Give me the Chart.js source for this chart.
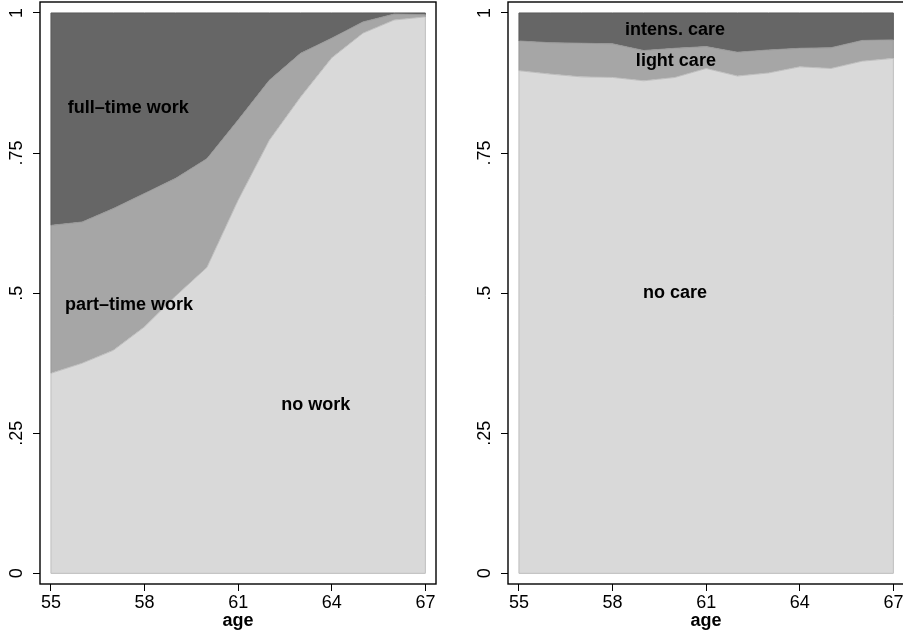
<!DOCTYPE html>
<html>
<head>
<meta charset="utf-8">
<script src="https://cdn.jsdelivr.net/npm/chart.js@4/dist/chart.umd.min.js"></script>
<style>
  html, body { margin: 0; padding: 0; background: #fff; overflow: hidden; }
  #wrap { position: relative; width: 903px; height: 636px; overflow: hidden; background: #fff; }
  canvas { position: absolute; top: 0; }
</style>
</head>
<body>
<div id="wrap">
  <canvas id="left" width="451" height="636" style="left:0px"></canvas>
  <canvas id="right" width="451" height="636" style="left:468px"></canvas>
</div>
<script>
// ---- data ----
const ages = [55, 56, 57, 58, 59, 60, 61, 62, 63, 64, 65, 66, 67];

const noWork   = [0.357, 0.375, 0.398, 0.440, 0.495, 0.546, 0.666, 0.773, 0.850, 0.920, 0.964, 0.9875, 0.993];
const partTime = [0.264, 0.252, 0.253, 0.238, 0.210, 0.194, 0.143, 0.107, 0.078, 0.035, 0.020, 0.0105, 0.004];
const fullTime = [0.379, 0.373, 0.349, 0.322, 0.295, 0.260, 0.191, 0.120, 0.072, 0.045, 0.016, 0.002, 0.003];

const noCare     = [0.897, 0.891, 0.886, 0.885, 0.879, 0.885, 0.901, 0.8875, 0.893, 0.904, 0.901, 0.914, 0.919];
const lightCare  = [0.053, 0.056, 0.060, 0.060, 0.054, 0.052, 0.039, 0.0425, 0.041, 0.033, 0.037, 0.037, 0.033];
const intensCare = [0.050, 0.053, 0.054, 0.055, 0.067, 0.063, 0.060, 0.070, 0.066, 0.063, 0.062, 0.049, 0.048];

const xTickValues = [55, 58, 61, 64, 67];
const yTickValues = [0, 0.25, 0.5, 0.75, 1];
const yTickLabels = ['0', '.25', '.5', '.75', '1'];
const xTitle = 'age';

const leftLabels  = [{ text: 'full\u2013time work', x: 57.48, y: 0.830 },
                     { text: 'part\u2013time work', x: 57.50, y: 0.479 },
                     { text: 'no work',            x: 63.49, y: 0.300 }];
const rightLabels = [{ text: 'intens. care', x: 60.0, y: 0.970 },
                     { text: 'light care',   x: 60.03, y: 0.915 },
                     { text: 'no care',      x: 60.0, y: 0.500 }];

// ---- styles ----
const FONT = '"Liberation Sans", Arial, Helvetica, sans-serif';
const fills   = ['#d9d9d9', '#a6a6a6', '#666666'];
const borders = ['#bdbdbd', '#979797', '#5a5a5a'];

function toPoints(vals) { return ages.map((a, i) => ({ x: a, y: vals[i] })); }

const framePlugin = {
  id: 'frame',
  afterDatasetsDraw(chart, args, opts) {
    const ctx = chart.ctx;
    const xs = chart.scales.x, ys = chart.scales.y;
    ctx.save();
    ctx.lineWidth = 1;
    const n = chart.data.datasets.length;
    const y0 = ys.getPixelForValue(0);
    for (let i = 0; i < n; i++) {
      const pts = chart.getDatasetMeta(i).data;
      const prev = i === 0 ? null : chart.getDatasetMeta(i - 1).data;
      const last = pts.length - 1;
      ctx.strokeStyle = borders[i];
      ctx.beginPath();
      ctx.moveTo(pts[0].x, pts[0].y);
      ctx.lineTo(pts[0].x, prev ? prev[0].y : y0);
      ctx.moveTo(pts[last].x, pts[last].y);
      ctx.lineTo(pts[last].x, prev ? prev[last].y : y0);
      if (i === 0) {
        ctx.moveTo(pts[0].x, y0);
        ctx.lineTo(pts[last].x, y0);
      }
      ctx.stroke();
    }
    ctx.fillStyle = '#000';
    ctx.font = 'bold 18px ' + FONT;
    ctx.textAlign = 'center';
    ctx.textBaseline = 'middle';
    (opts.labels || []).forEach(l => {
      ctx.fillText(l.text, xs.getPixelForValue(l.x), ys.getPixelForValue(l.y));
    });
    const a = chart.chartArea;
    ctx.strokeStyle = '#000';
    ctx.lineWidth = 1.4;
    ctx.strokeRect(a.left, a.top, a.right - a.left, a.bottom - a.top);
    ctx.restore();
  }
};

function makeChart(id, series, labels) {
  return new Chart(document.getElementById(id), {
    type: 'line',
    data: {
      datasets: series.map((s, i) => ({
        label: s.name,
        data: toPoints(s.values),
        backgroundColor: fills[i],
        borderColor: borders[i],
        borderWidth: 1,
        pointRadius: 0,
        tension: 0,
        fill: i === 0 ? 'origin' : '-1'
      }))
    },
    options: {
      responsive: false,
      animation: false,
      devicePixelRatio: 1,
      layout: { padding: { top: 2, right: 15, bottom: 0, left: 0 } },
      plugins: {
        legend: { display: false },
        tooltip: { enabled: false },
        frame: { labels: labels }
      },
      scales: {
        x: {
          type: 'linear',
          min: 54.65, max: 67.34,
          afterBuildTicks: sc => { sc.ticks = xTickValues.map(v => ({ value: v })); },
          afterFit: sc => { sc.height = 52; sc.paddingLeft = 0; sc.paddingRight = 0; },
          grid: { display: true, drawOnChartArea: false, drawTicks: true, tickLength: 7, color: '#000', lineWidth: 1 },
          border: { display: false },
          ticks: {
            autoSkip: false, maxRotation: 0, minRotation: 0, padding: 1,
            color: '#000', font: { family: FONT, size: 18 },
            callback: v => String(v)
          },
          title: {
            display: true, text: xTitle, color: '#000',
            font: { family: FONT, size: 18, weight: 'bold' },
            padding: { top: 0, bottom: 4 }
          }
        },
        y: {
          type: 'linear',
          stacked: true,
          min: -0.019, max: 1.0196,
          afterBuildTicks: sc => { sc.ticks = yTickValues.map(v => ({ value: v })); },
          afterFit: sc => { sc.width = 40; sc.paddingTop = 0; sc.paddingBottom = 0; },
          grid: { display: true, drawOnChartArea: false, drawTicks: true, tickLength: 7, color: '#000', lineWidth: 1 },
          border: { display: false },
          ticks: {
            autoSkip: false, minRotation: 90, maxRotation: 90, crossAlign: 'center', padding: 3,
            color: '#000', font: { family: FONT, size: 18 },
            callback: (v) => yTickLabels[yTickValues.indexOf(v)]
          }
        }
      }
    },
    plugins: [framePlugin]
  });
}

makeChart('left', [
  { name: 'no work', values: noWork },
  { name: 'part-time work', values: partTime },
  { name: 'full-time work', values: fullTime }
], leftLabels);

makeChart('right', [
  { name: 'no care', values: noCare },
  { name: 'light care', values: lightCare },
  { name: 'intens. care', values: intensCare }
], rightLabels);
</script>
</body>
</html>
